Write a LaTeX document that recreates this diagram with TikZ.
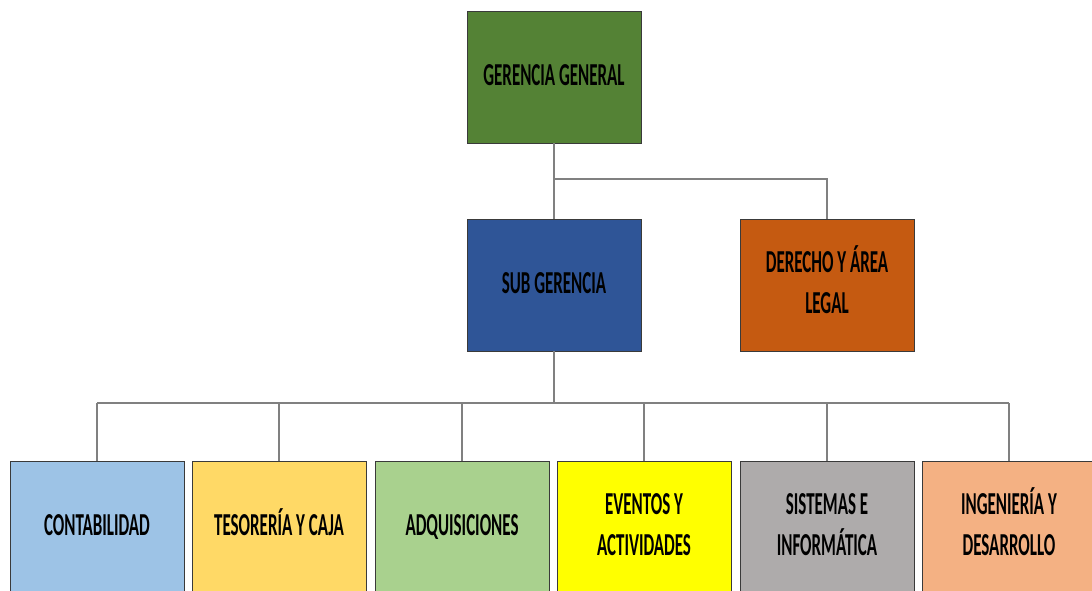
\documentclass[tikz,border=0pt]{standalone}
\usepackage{fontspec}
\setmainfont{Carlito}
\usepackage{graphicx}

\definecolor{boxline}{HTML}{3A3A3A}
\definecolor{linkgray}{HTML}{808080}
\definecolor{gerencia}{HTML}{548235}
\definecolor{subger}{HTML}{2F5597}
\definecolor{legal}{HTML}{C55A11}
\definecolor{conta}{HTML}{9DC3E6}
\definecolor{teso}{HTML}{FFD966}
\definecolor{adqui}{HTML}{A9D18E}
\definecolor{event}{HTML}{FFFF00}
\definecolor{siste}{HTML}{AEABAB}
\definecolor{inge}{HTML}{F4B183}

\newcommand{\boxtext}[1]{\scalebox{0.53}[1]{\begin{tabular}{@{}c@{}}#1\end{tabular}}}

\begin{document}
\begin{tikzpicture}[x=1pt,y=-1pt,
    unit/.style={draw=boxline, line width=0.8pt, minimum width=174pt, minimum height=132pt,
      font=\fontsize{32}{41}\selectfont\bfseries},
    link/.style={draw=linkgray, line width=1.2pt}]
        \path[use as bounding box, clip] (0,0) rectangle (1092,590);

        \node[unit, fill=gerencia] (gg) at (554,77) {\boxtext{GERENCIA GENERAL}};
        \node[unit, fill=subger] (sub) at (554,285) {\boxtext{SUB GERENCIA}};
        \node[unit, fill=legal] (der) at (827,285) {\boxtext{DERECHO Y ÁREA\\LEGAL}};

        \node[unit, fill=conta] (cont) at (97,527) {\boxtext{CONTABILIDAD}};
        \node[unit, fill=teso] (teso) at (279,527) {\boxtext{TESORERÍA Y CAJA}};
        \node[unit, fill=adqui] (adq) at (462,527) {\boxtext{ADQUISICIONES}};
        \node[unit, fill=event] (even) at (644,527) {\boxtext{EVENTOS Y\\ACTIVIDADES}};
        \node[unit, fill=siste] (sis) at (827,527) {\boxtext{SISTEMAS E\\INFORMÁTICA}};
        \node[unit, fill=inge] (ing) at (1009,527) {\boxtext{INGENIERÍA Y\\DESARROLLO}};

        \coordinate (j1) at (554,179);
        \coordinate (j2) at (554,403);

        \draw[link] (gg) -- (sub);
        \draw[link] (j1) -| (der);
        \draw[link] (sub) -- (j2);
        \draw[link] (cont |- j2) -- (ing |- j2);
        \foreach \n in {cont,teso,adq,even,sis,ing}
          \draw[link] (\n |- j2) -- (\n);
      \end{tikzpicture}
\end{document}
